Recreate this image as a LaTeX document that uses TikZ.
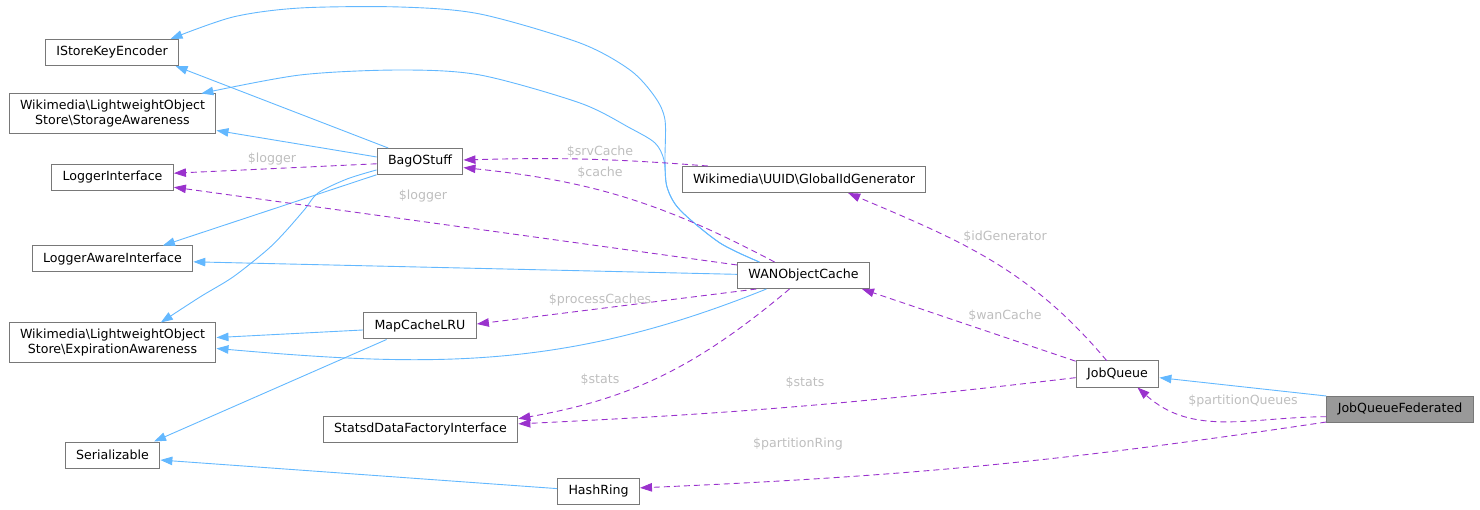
\documentclass[tikz,border=0pt]{standalone}
\usepackage{fontspec}
\setmainfont{DejaVu Sans}
\usepackage{tikz}
\usetikzlibrary{arrows.meta, calc}
\definecolor{inhblue}{RGB}{99, 184, 255}
\definecolor{usepurple}{RGB}{154, 50, 205}
\definecolor{lblgray}{RGB}{190, 190, 190}
\definecolor{boxgray}{RGB}{120, 120, 120}
\definecolor{basefill}{RGB}{153, 153, 153}

\begin{document}
\begin{tikzpicture}[x=1pt, y=-1pt,
    cls/.style={draw=boxgray, line width=1pt, fill=white, font=\fontsize{12.6}{15}\selectfont,
        minimum height=26pt, inner xsep=11pt, inner ysep=2pt, align=center},
    inh/.style={draw=inhblue, line width=0.9pt, -{Triangle[length=12pt, width=8.5pt]}},
    use/.style={draw=usepurple, line width=0.9pt, dash pattern=on 6pt off 4pt,
        -{Triangle[length=12pt, width=8.5pt]}},
    lbl/.style={text=lblgray, font=\fontsize{12.6}{15}\selectfont, inner sep=0pt}]
    \useasboundingbox (0,0) rectangle (1480,510);

    % 左列接口
    \node[cls] (isk) at (112,52.5) {IStoreKeyEncoder};
    \node[cls, minimum height=40pt] (sta) at (112.5,114) {Wikimedia\textbackslash LightweightObject\\Store\textbackslash StorageAwareness};
    \node[cls] (log) at (112.5,177.5) {LoggerInterface};
    \node[cls] (law) at (112.5,259) {LoggerAwareInterface};
    \node[cls, minimum height=40pt] (exp) at (112.5,343) {Wikimedia\textbackslash LightweightObject\\Store\textbackslash ExpirationAwareness};
    \node[cls] (ser) at (112.5,455) {Serializable};

    % 中间类
    \node[cls] (bag) at (420,161.5) {BagOStuff};
    \node[cls] (map) at (420,326) {MapCacheLRU};
    \node[cls] (sdf) at (420.5,429) {StatsdDataFactoryInterface};
    \node[cls] (hr) at (598.5,491.5) {HashRing};
    \node[cls] (gid) at (804,179.5) {Wikimedia\textbackslash UUID\textbackslash GlobalIdGenerator};
    \node[cls] (wan) at (803.5,275.5) {WANObjectCache};
    \node[cls] (jq) at (1117.5,374) {JobQueue};
    \node[cls, fill=basefill] (jqf) at (1400,409) {JobQueueFederated};

    % 继承关系
    \draw[inh] (bag.157) -- (isk.-12);
    \draw[inh] (bag.174) -- (sta.-9.5);
    \draw[inh] (bag.-163) -- (law.15);
    \draw[inh] plot[smooth, tension=0.5] coordinates {(bag.-169) (347,179) (318,193) (305,209) (285,232) (267,250) (233,277) (200,297) (exp.23)};
    \draw[inh] plot[smooth, tension=0.5] coordinates {(wan.163) (720,243) (680,210) (667,187) (665,160) (665,120) (655,97) (630,70) (580,43) (480,14) (400,7) (300,8) (233,17) (isk.13)};
    \draw[inh] plot[smooth, tension=0.5] coordinates {(wan.163) (720,243) (680,210) (667,187) (664,160) (655,143) (630,128) (580,103) (480,75) (400,70) (300,75) (sta.13)};
    \draw[inh] (wan.179) -- (law.-2);
    \draw[inh] (wan.-160) to[out=-158, in=-5] (exp.-3);
    \draw[inh] (map.-176) -- (exp.3);
    \draw[inh] (map.-158) -- (ser.18);
    \draw[inh] (hr.176) -- (ser.-6);
    \draw[inh] (jqf.170) -- (jq.-5);

    % 成员引用
    \draw[use] (bag.-177) -- (log.4);
    \draw[use] (wan.171) -- (log.-9);
    \draw[use] (gid.172) to[bend right=3] (bag.2);
    \draw[use] (wan.155) to[bend right=11] (bag.-8);
    \draw[use] (wan.-164) -- (map.2);
    \draw[use] (wan.-136) to[out=-140, in=10] (sdf.6);
    \draw[use] (jq.-175) to[bend left=2] (sdf.3);
    \draw[use] (jq.163) -- (wan.-13.5);
    \draw[use] (jq.129) to[out=130, in=-23] (gid.-17);
    \draw[use] (jqf.-174) to[out=180, in=-42] (jq.-34);
    \draw[use] (jqf.-170) to[bend left=3] (hr.5);

    % 标签
    \node[lbl] (l-logb) at (272,159) {\$logger};
    \node[lbl] (l-logw) at (423,196) {\$logger};
    \node[lbl] (l-srv) at (600,152) {\$srvCache};
    \node[lbl] (l-cache) at (600,173) {\$cache};
    \node[lbl] (l-proc) at (600,300) {\$processCaches};
    \node[lbl] (l-statw) at (600,380) {\$stats};
    \node[lbl] (l-statj) at (805,383) {\$stats};
    \node[lbl] (l-idg) at (1005,237) {\$idGenerator};
    \node[lbl] (l-wan) at (1005,316) {\$wanCache};
    \node[lbl] (l-pq) at (1243,401) {\$partitionQueues};
    \node[lbl] (l-pr) at (798,444) {\$partitionRing};
\end{tikzpicture}
\end{document}
